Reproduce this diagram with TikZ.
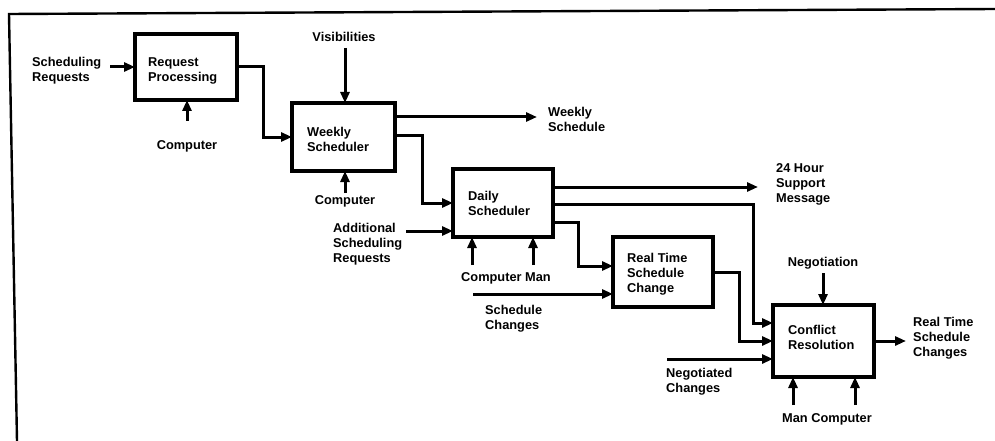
\documentclass[tikz,border=0pt]{standalone}
\usepackage{fontspec}
\setmainfont{Liberation Sans}
\usetikzlibrary{arrows.meta,calc}
\begin{document}
\begin{tikzpicture}[x=1pt,y=-1pt,
  box/.style={draw,line width=3.2pt,inner sep=0pt,outer sep=0pt},
  lbl/.style={font=\fontsize{12.8}{15}\selectfont\bfseries,align=left,inner sep=0pt,anchor=north west},
  clbl/.style={lbl,anchor=north,align=center},
  arr/.style={line width=3pt,line join=miter,-{Triangle[length=11pt,width=9pt]}},
  frame/.style={line width=2.4pt}]
\useasboundingbox (0,0) rectangle (995,441);
% frame
\coordinate (fbl) at (17,441);
\coordinate (ftl) at (9,14);
\coordinate (ftr) at (995,9);
\draw[frame] (fbl) -- (ftl) -- (ftr);
% boxes
\node[box,minimum width=102pt,minimum height=66pt] (rp) at (186,67) {};
\node[box,minimum width=103pt,minimum height=68pt] (ws) at (343.5,137) {};
\node[box,minimum width=100pt,minimum height=68pt] (ds) at (503,203) {};
\node[box,minimum width=100pt,minimum height=70pt] (rt) at (663,272) {};
\node[box,minimum width=101pt,minimum height=72pt] (cr) at (823.5,341) {};
% box texts
\node[lbl] (rpt) at (148,57) {Request\\Processing};
\node[lbl] (wst) at (307,127) {Weekly\\Scheduler};
\node[lbl] (dst) at (468,191) {Daily\\Scheduler};
\node[lbl] (rtt) at (627,253) {Real Time\\Schedule\\Change};
\node[lbl] (crt) at (788,325) {Conflict\\Resolution};
% outer labels
\node[lbl] (l1) at (32,57) {Scheduling\\Requests};
\node[clbl] (l2) at (187,140) {Computer};
\node[clbl] (l3) at (344,32) {Visibilities};
\node[lbl] (l4) at (548,107) {Weekly\\Schedule};
\node[clbl] (l5) at (345,195) {Computer};
\node[lbl] (l6) at (333,223) {Additional\\Scheduling\\Requests};
\node[clbl] (l7) at (506,272) {Computer Man};
\node[lbl] (l8) at (485,305) {Schedule\\Changes};
\node[lbl] (l9) at (776,163) {24 Hour\\Support\\Message};
\node[clbl] (l10) at (823,257) {Negotiation};
\node[lbl] (l11) at (666,368) {Negotiated\\Changes};
\node[lbl] (l12) at (913,317) {Real Time\\Schedule\\Changes};
\node[clbl] (l13) at (827,413) {Man Computer};
% free ends
\coordinate (c1) at (110,67);
\coordinate (c2) at (187,121);
\coordinate (c3) at (345,48);
\coordinate (c4) at (537,117);
\coordinate (c5) at (345,193);
\coordinate (c6) at (758,187);
\coordinate (c7) at (406,231);
\coordinate (c8) at (472,265);
\coordinate (c9) at (533,265);
\coordinate (c10) at (473,294);
\coordinate (c11) at (823,273);
\coordinate (c12) at (667,359);
\coordinate (c13) at (906,341);
\coordinate (c14) at (793,405);
\coordinate (c15) at (855,405);
% connectors
\draw[arr] (c1) -- (rp.west);
\draw[arr] (c2) -- (c2 |- rp.south);
\draw[arr] (rp.east) -- ++(26,0) |- (ws.west);
\draw[arr] (c3) -- (c3 |- ws.north);
\draw[arr] (ws.east |- c4) -- (c4);
\draw[arr] ($(ws.north east)+(0,32)$) -- ++(27,0) |- (ds.west);
\draw[arr] (c5) -- (c5 |- ws.south);
\draw[arr] (ds.east |- c6) -- (c6);
\draw[arr] ($(ds.north east)+(0,35)$) -| ($(cr.north west)+(-20,0)$) |- ($(cr.north west)+(0,18)$);
\draw[arr] ($(ds.north east)+(0,53)$) -- ++(25,0) |- ($(rt.north west)+(0,29)$);
\draw[arr] (c7) -- (c7 -| ds.west);
\draw[arr] (c8) -- (c8 |- ds.south);
\draw[arr] (c9) -- (c9 |- ds.south);
\draw[arr] (c10) -- (c10 -| rt.west);
\draw[arr] (rt.east) -- ++(26,0) |- (cr.west);
\draw[arr] (c11) -- (c11 |- cr.north);
\draw[arr] (c12) -- (c12 -| cr.west);
\draw[arr] (cr.east) -- (c13);
\draw[arr] (c14) -- (c14 |- cr.south);
\draw[arr] (c15) -- (c15 |- cr.south);
\end{tikzpicture}
\end{document}
